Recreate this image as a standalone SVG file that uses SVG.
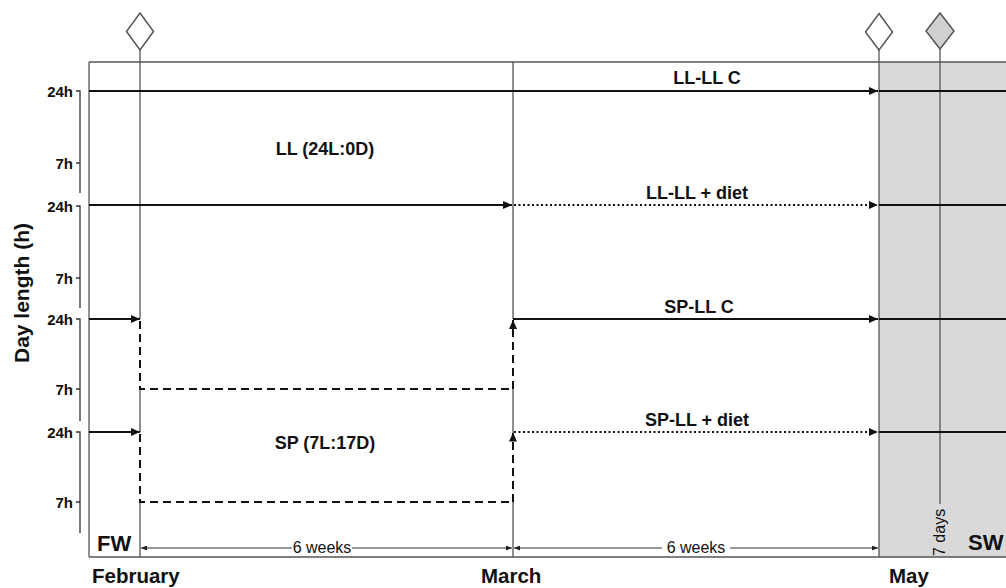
<svg xmlns="http://www.w3.org/2000/svg" width="1006" height="588" viewBox="0 0 1006 588">
<style>
.frame{stroke:#555;stroke-width:1.3;fill:none}
.vl{stroke:#555;stroke-width:1.3;fill:none}
.data{stroke:#111;stroke-width:2;fill:none}
.dot{stroke:#111;stroke-width:2;fill:none;stroke-dasharray:2 2.5}
.dash{stroke:#111;stroke-width:2;fill:none;stroke-dasharray:8 5}
.dim{stroke:#333;stroke-width:1;fill:none}
.axis{stroke:#333;stroke-width:1.3;fill:none}
.dia{stroke:#555;stroke-width:1.5;fill:#fff}
text{font-family:"Liberation Sans",Arial,sans-serif;fill:#111}
.b{font-weight:bold}
.tick{font-weight:bold;font-size:15px;text-anchor:end}
.lab{font-weight:bold;font-size:18px;text-anchor:middle}
.mon{font-weight:bold;font-size:20.5px}
</style>
<defs>
<marker id="ah" viewBox="0 0 9 8" refX="9" refY="4" markerWidth="9" markerHeight="8" markerUnits="userSpaceOnUse" orient="auto">
<path d="M0,0 L9,4 L0,8 z" fill="#111"/>
</marker>
<marker id="ahs" viewBox="0 0 6 5" refX="6" refY="2.5" markerWidth="6" markerHeight="5" markerUnits="userSpaceOnUse" orient="auto">
<path d="M0,0 L6,2.5 L0,5 z" fill="#222"/>
</marker>
</defs>
<rect width="1006" height="588" fill="#fff"/>

<g id="sw-region">
<rect x="879" y="62" width="127" height="495" fill="#d9d9d9"/>
</g>

<g id="frame">
<path class="frame" d="M89,62 H1006 M89,62 V557 M89,557 H1006"/>
</g>

<g id="time-markers">
<path class="vl" d="M140,50 V319 M140,389 V432 M140,502 V557"/>
<path class="vl" d="M513,62 V319 M513,389 V432 M513,502 V557"/>
<path class="vl" d="M879,50 V557"/>
<path class="vl" d="M940,49 V504"/>
<path class="dia" d="M140,13 L153.5,31.5 L140,50 L126.5,31.5 Z"/>
<path class="dia" d="M879,13.5 L892.5,32 L879,50 L865.5,32 Z"/>
<path class="dia" d="M940,13 L954,31 L940,49 L926,31 Z" style="fill:#d0d0d0"/>
</g>

<g id="y-axis">
<path class="axis" d="M76,91 H80 V193 M76,163 H80 M76,206 H80 V308 M76,278 H80 M76,319 H80 V421 M76,389 H80 M76,432 H80 V533 M76,502 H80"/>
<text class="tick" x="73" y="96.5">24h</text>
<text class="tick" x="73" y="168.5">7h</text>
<text class="tick" x="73" y="211.5">24h</text>
<text class="tick" x="73" y="283.5">7h</text>
<text class="tick" x="73" y="324.5">24h</text>
<text class="tick" x="73" y="394.5">7h</text>
<text class="tick" x="73" y="437.5">24h</text>
<text class="tick" x="73" y="507.5">7h</text>
<text class="b" x="0" y="0" font-size="21" text-anchor="middle" transform="translate(29,293) rotate(-90)">Day length (h)</text>
</g>

<g id="connectors">
<path class="data" d="M89,91 H878" marker-end="url(#ah)"/>
<path class="data" d="M89,205 H512" marker-end="url(#ah)"/>
<path class="dot" d="M514,205 H878" marker-end="url(#ah)"/>
<path class="data" d="M89,319 H140" marker-end="url(#ah)"/>
<path class="data" d="M89,432 H140" marker-end="url(#ah)"/>
<path class="data" d="M513,319 H878" marker-end="url(#ah)"/>
<path class="dot" d="M514,432 H878" marker-end="url(#ah)"/>
<path class="dash" d="M140,321 V389 H513"/>
<path class="dash" d="M140,434 V502 H513"/>
<path class="dash" d="M513,389 V320" marker-end="url(#ah)"/>
<path class="dash" d="M513,502 V432.5" marker-end="url(#ah)"/>
<path class="data" d="M879,91 H1006 M879,205 H1006 M879,319 H1006 M879,432 H1006"/>
<path class="dim" d="M292,548 H141" marker-end="url(#ahs)"/>
<path class="dim" d="M352,548 H512" marker-end="url(#ahs)"/>
<path class="dim" d="M662,548 H514" marker-end="url(#ahs)"/>
<path class="dim" d="M730,548 H878" marker-end="url(#ahs)"/>
</g>

<g id="labels">
<text class="lab" x="707" y="84">LL-LL C</text>
<text class="lab" x="697" y="199">LL-LL + diet</text>
<text class="lab" x="699" y="313">SP-LL C</text>
<text class="lab" x="697" y="426">SP-LL + diet</text>
<text class="lab" x="325" y="155">LL (24L:0D)</text>
<text class="lab" x="325" y="449">SP (7L:17D)</text>
<text x="322" y="553" font-size="16" text-anchor="middle">6 weeks</text>
<text x="696" y="553" font-size="16" text-anchor="middle">6 weeks</text>
<text x="0" y="0" font-size="16" transform="translate(945,556) rotate(-90)">7 days</text>
<text class="b" x="97" y="551" font-size="22">FW</text>
<text class="b" x="968" y="550" font-size="22">SW</text>
<text class="mon" x="92" y="583">February</text>
<text class="mon" x="481" y="583">March</text>
<text class="mon" x="889" y="583">May</text>
</g>
</svg>
